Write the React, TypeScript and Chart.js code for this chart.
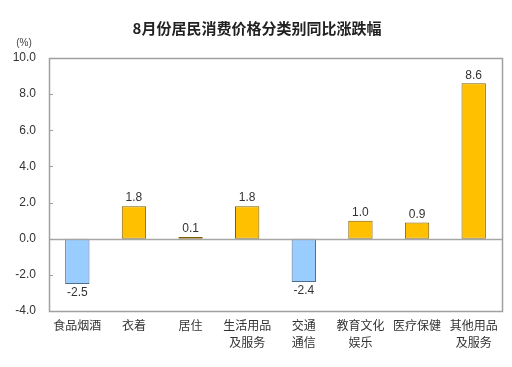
import React, { useEffect, useRef } from "react";
import { Chart, registerables } from "chart.js";

Chart.register(...registerables);

const categories: (string | string[])[] = [
  "食品烟酒",
  "衣着",
  "居住",
  ["生活用品", "及服务"],
  ["交通", "通信"],
  ["教育文化", "娱乐"],
  "医疗保健",
  ["其他用品", "及服务"],
];
const values = [-2.5, 1.8, 0.1, 1.8, -2.4, 1.0, 0.9, 8.6];
const yMin = -4;
const yMax = 10;
const yStep = 2;
const title = "8月份居民消费价格分类别同比涨跌幅";
const unitLabel = "(%)";

const FONT = "'Liberation Sans', 'Noto Sans CJK SC', sans-serif";
const CJK = "'Noto Sans CJK SC', 'Liberation Sans', sans-serif";

export default function App() {
  const ref = useRef<HTMLCanvasElement>(null);
  useEffect(() => {
    document.body.style.margin = "0";
    const canvas = ref.current!;
    const decor = {
      id: "decor",
      afterDatasetsDraw(chart: any) {
        const { ctx, chartArea } = chart;
        const y = chart.scales.y;
        ctx.save();
        ctx.strokeStyle = "#a6a6a6";
        ctx.lineWidth = 1.5;
        const z = Math.round(y.getPixelForValue(0)) + 0.5;
        ctx.beginPath();
        ctx.moveTo(chartArea.left, z);
        ctx.lineTo(chartArea.right, z);
        ctx.stroke();
        ctx.strokeStyle = "#a0a0a0";
        ctx.lineWidth = 1.5;
        ctx.strokeRect(
          Math.round(chartArea.left) + 0.5,
          Math.round(chartArea.top) + 0.5,
          Math.round(chartArea.right - chartArea.left),
          Math.round(chartArea.bottom - chartArea.top)
        );
        ctx.lineWidth = 1;
        for (let v = yMin; v <= yMax; v += yStep) {
          const py = Math.round(y.getPixelForValue(v)) + 0.5;
          ctx.beginPath();
          ctx.moveTo(chartArea.left, py);
          ctx.lineTo(chartArea.left + 4, py);
          ctx.stroke();
        }
        const meta = chart.getDatasetMeta(0);
        ctx.fillStyle = "#333";
        ctx.font = `12px ${FONT}`;
        ctx.textAlign = "center";
        meta.data.forEach((bar: any, i: number) => {
          const v = values[i];
          const txt = v.toFixed(1);
          if (v >= 0) {
            ctx.textBaseline = "bottom";
            ctx.fillText(txt, bar.x, bar.y - 2);
          } else {
            ctx.textBaseline = "top";
            ctx.fillText(txt, bar.x, bar.y + 3);
          }
        });
        ctx.fillStyle = "#222";
        ctx.font = `bold 15px ${CJK}`;
        ctx.textBaseline = "middle";
        ctx.fillText(title, 257, 28);
        ctx.font = `10px ${FONT}`;
        ctx.fillStyle = "#444";
        ctx.fillText(unitLabel, 24, 43);
        ctx.restore();
      },
    };
    const chart = new Chart(canvas, {
      type: "bar",
      data: {
        labels: categories,
        datasets: [
          {
            data: values,
            backgroundColor: values.map((v) => (v < 0 ? "#99CCFF" : "#FFC000")),
            borderColor: values.map((v) => (v < 0 ? "#4F6D8A" : "#7F6000")),
            borderWidth: 1,
            borderSkipped: false,
            barPercentage: 0.43,
            categoryPercentage: 1,
          },
        ],
      },
      options: {
        animation: false,
        responsive: false,
        maintainAspectRatio: false,
        layout: { padding: { top: 58, right: 10, left: 0, bottom: 0 } },
        plugins: { legend: { display: false }, tooltip: { enabled: false }, title: { display: false } },
        scales: {
          x: {
            grid: { display: false, drawTicks: false },
            border: { display: false },
            ticks: {
              color: "#333",
              font: { family: CJK, size: 12, lineHeight: 1.4 },
              padding: 6,
              maxRotation: 0,
              autoSkip: false,
            },
            afterFit: (s: any) => {
              s.height = 56;
            },
          },
          y: {
            min: yMin,
            max: yMax,
            grid: { display: false, drawTicks: false },
            border: { display: false },
            ticks: {
              stepSize: yStep,
              color: "#333",
              font: { family: FONT, size: 12 },
              padding: 13,
              callback: (v: any) => Number(v).toFixed(1),
            },
            afterFit: (s: any) => {
              s.width = 49;
            },
          },
        },
      },
      plugins: [decor],
    });
    return () => chart.destroy();
  }, []);
  return (
    <div style={{ width: 512, height: 367, background: "#fff" }}>
      <canvas ref={ref} width={512} height={367} style={{ display: "block" }} />
    </div>
  );
}
